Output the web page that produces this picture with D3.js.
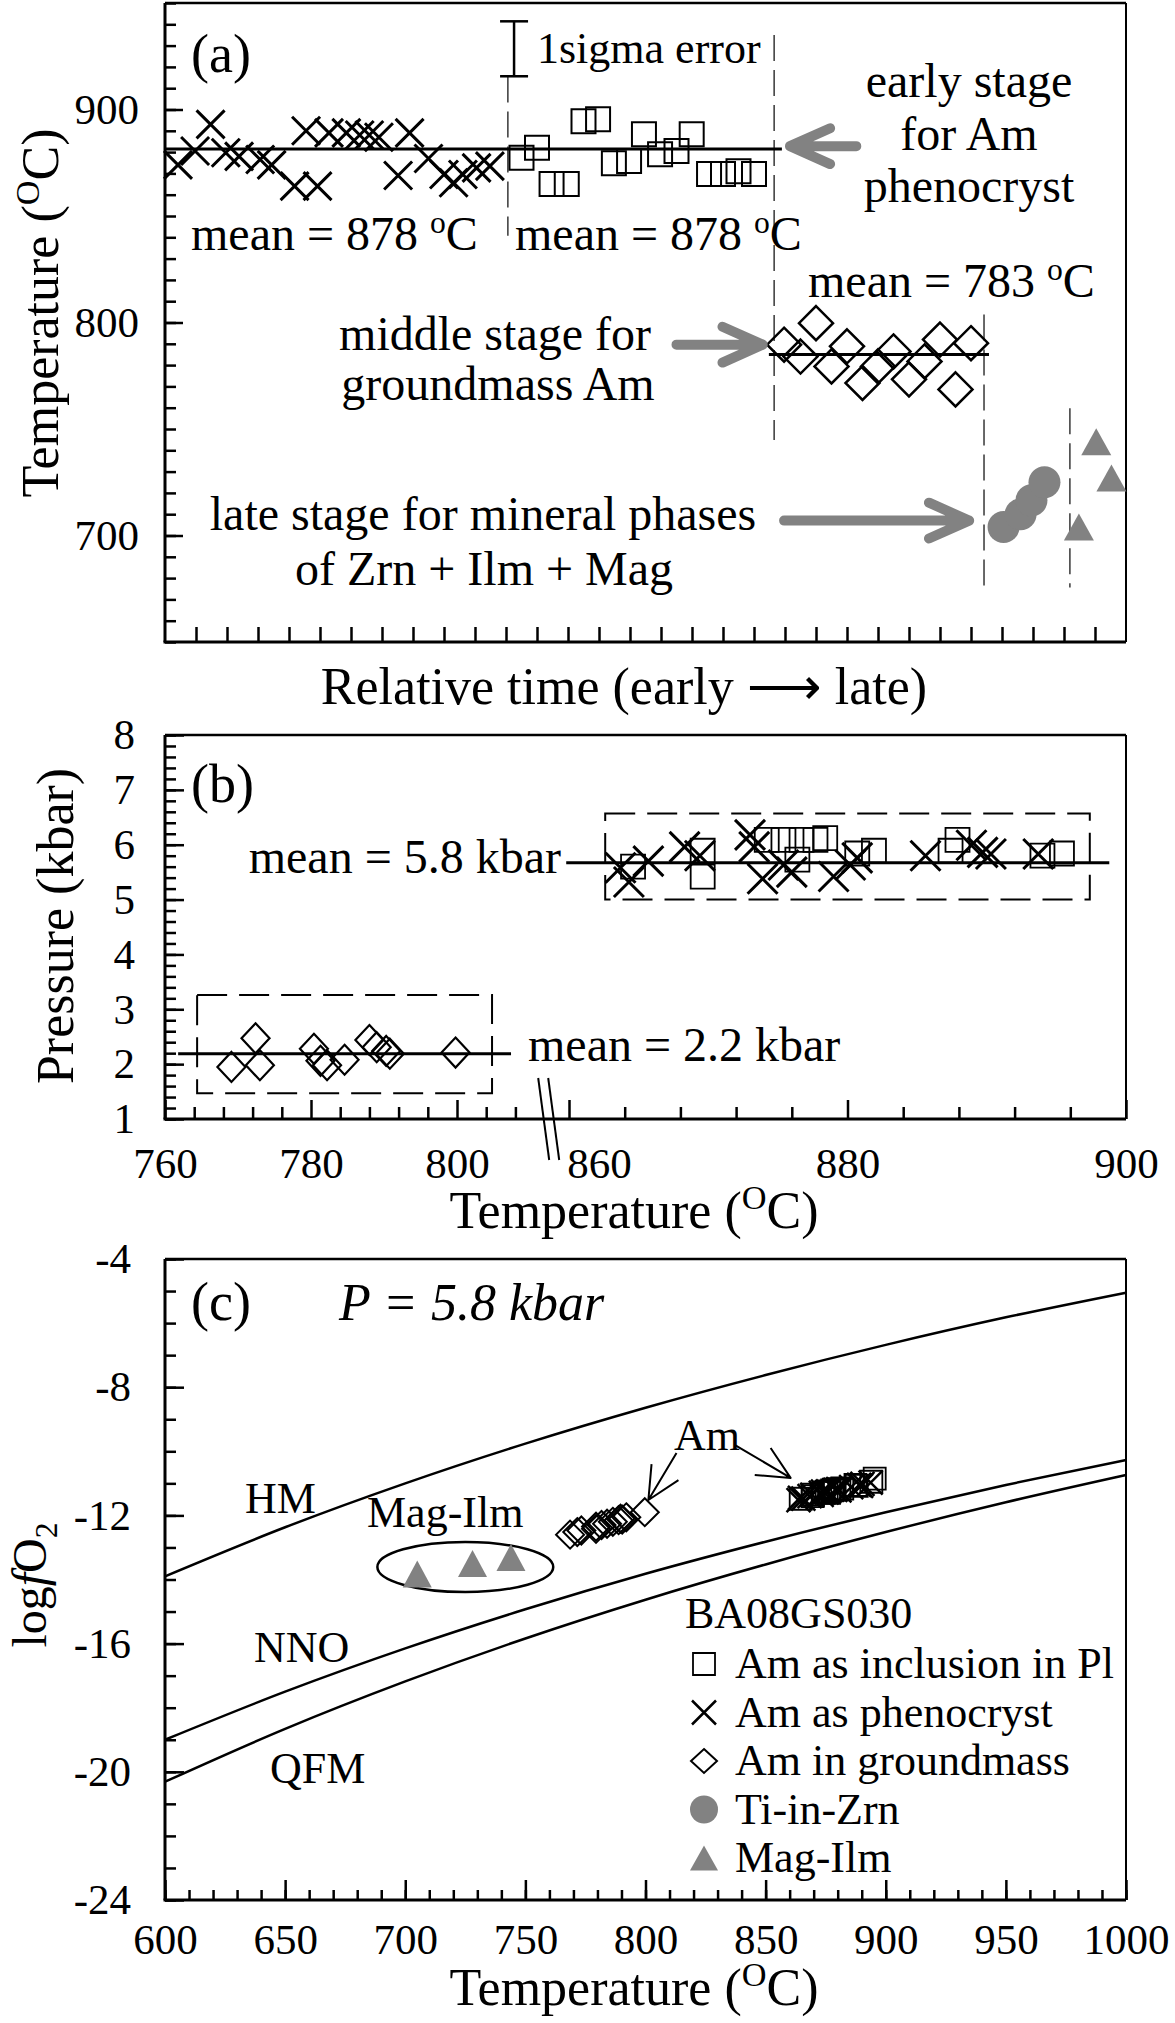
<!DOCTYPE html>
<head>
  <meta charset="UTF-8">
  <script src="https://d3js.org/d3.v7.min.js"></script>
  <style>
    body { margin: 0; background: #fff; }
  </style>
</head>
<body>
<div id="my_dataviz"></div>
<script>
// ---------- values ----------

// (a) relative time position, temperature (oC)
var aPhenocryst = [[0.42,874],[0.97,880.5],[1.47,893],[1.96,879.7],[2.39,878],[3.07,876.5],[3.44,874],
  [4.18,864],[4.55,890],[4.92,864],[5.29,889],[5.85,889],[6.28,888],[6.59,888],[6.9,887],[7.52,869],
  [7.89,889],[8.5,877],[9.0,869.5],[9.31,865.6],[9.61,869.5],[10.05,872.6],[10.48,873.4]];
var aInclusion = [[11.5,877.3],[12.0,882],[12.47,865],[12.96,865],[13.5,894.5],[13.97,895.4],[14.48,874.8],
  [14.97,875.8],[15.45,888.4],[15.97,879],[16.5,880.5],[16.99,888.4],[17.55,869.7],[18.0,869.7],[18.5,871],[19.0,869.7]];
var aGroundmass = [[19.97,789.6],[20.5,784],[21.0,799.7],[21.5,779.4],[22.0,788.8],[22.5,771.6],[23.0,779.4],
  [23.5,786.4],[24.0,773.3],[24.5,781.7],[25.0,792],[25.5,768.6],[26.0,790.3]];
var aZircon = [[27.05,704],[27.6,710],[27.95,716.5],[28.37,725]];
var aMagIlm = [[29.48,704],[30.04,744],[30.53,727]];
var aYTicks = [700, 800, 900];
var aMeanLines = [[0, 19.9, 881.5], [19.48, 26.58, 785]];            // from, to, temperature
var aDividers = [[11.06, 915.5, 840.7], [19.65, 935, 744.8], [26.42, 803.7, 674.2], [29.19, 759.7, 675.6]];
var aErrorBar = [11.26, 915.6, 941.4];
var aArrows = [[22.3, 882.8, 20.16, 882.8], [16.5, 789.6, 19.28, 789.6], [19.97, 707, 25.94, 707]];

// (b) temperature (oC), pressure (kbar)
var bGroundmass = [[769.1,1.95],[772.4,2.47],[773,1.98],[780.4,2.28],[781.3,2.06],[782.2,1.98],[784.6,2.08],
  [788,2.44],[789,2.31],[790.3,2.24],[790.8,2.19],[799.8,2.21]];
var bPhenocryst = [[863.7,5.58],[864.3,5.32],[865.7,5.70],[868.3,5.96],[869.4,5.8],[873,6.18],[873.3,5.96],
  [873.9,5.38],[875.4,5.63],[876,5.5],[879,5.42],[880.2,5.63],[880.7,5.76],[885.6,5.8],[888.9,5.99],
  [889.7,5.86],[890.3,5.83],[893.7,5.83]];
var bInclusion = [[864.6,5.6],[869.6,5.89],[869.6,5.42],[874.2,6.09],[875.4,6.09],[876.7,6.09],[877.7,6.09],
  [878.4,6.12],[876.4,5.73],[880.7,5.84],[881.9,5.89],[887.9,6.09],[887.4,5.89],[894,5.8],[895.4,5.84]];
var bYTicks = [1, 2, 3, 4, 5, 6, 7, 8];
var bXTicksLow = [760, 780, 800];
var bXTicksHigh = [860, 880, 900];
var bMeanLow = [761.8, 807.4, 2.19];
var bMeanHigh = [859.8, 898.8, 5.67];
var bBoxLow = [764.4, 804.8, 1.47, 3.26];
var bBoxHigh = [862.6, 897.4, 5.0, 6.57];

// (c) temperature (oC), log fO2
var cGroundmass = [[768.6,-12.6],[771.6,-12.52],[773.3,-12.47],[779.4,-12.35],[779.4,-12.42],[781.7,-12.3],
  [784,-12.26],[786.4,-12.2],[788.8,-12.15],[789.6,-12.1],[790.3,-12.13],[792,-12.06],[799.7,-11.9]];
var cPhenocryst = [[863.7,-11.52],[864.3,-11.45],[865.7,-11.48],[868.3,-11.4],[869.4,-11.36],[873,-11.3],
  [873.3,-11.36],[873.9,-11.26],[875.4,-11.28],[876,-11.25],[879,-11.2],[880.2,-11.18],[880.7,-11.22],
  [885.6,-11.12],[888.9,-11.05],[889.7,-11.08],[890.3,-11.02],[893.7,-10.98]];
var cInclusion = [[864.6,-11.48],[869.6,-11.4],[869.6,-11.35],[874.2,-11.3],[875.4,-11.27],[876.7,-11.25],
  [877.7,-11.22],[878.4,-11.2],[876.4,-11.3],[880.7,-11.18],[881.9,-11.16],[887.9,-11.08],[887.4,-11.05],
  [894,-10.95],[895.4,-10.85]];
var cMagIlm = [[705,-13.83],[728,-13.5],[744,-13.31]];
var cMagIlmRing = [725, -13.61, 36.6, 0.78];
var cAmArrows = [[812.9,-10.05,801.2,-11.52],[837.1,-9.8,860.4,-10.83]];
var bufferT = [600, 650, 700, 750, 800, 850, 900, 950, 1000];
var bufferHM = [-13.9, -12.37, -11.0, -9.76, -8.64, -7.62, -6.68, -5.82, -5.05];
var bufferNNO = [-19.0, -17.5, -16.15, -14.93, -13.82, -12.82, -11.9, -11.05, -10.27];
var bufferQFM = [-20.31, -18.66, -17.18, -15.84, -14.63, -13.53, -12.52, -11.59, -10.74];
var cXTicks = [600, 650, 700, 750, 800, 850, 900, 950, 1000];
var cYTicks = [-24, -20, -16, -12, -8, -4];
var legendLabels = ["Am as inclusion in Pl", "Am as phenocryst", "Am in groundmass", "Ti-in-Zrn", "Mag-Ilm"];

// ---------- setup ----------
var serif = "'Liberation Serif', 'Times New Roman', Times, serif";
var gray = "#828282";
var L = 165, R = 1126;

var svg = d3.select("#my_dataviz").append("svg")
  .attr("width", 1175).attr("height", 2023)
  .attr("font-family", serif);

// marker shapes
function sqPath(s) { var h = s / 2; return "M" + (-h) + "," + (-h) + "H" + h + "V" + h + "H" + (-h) + "Z"; }
function xPath(h) { return "M" + (-h) + "," + (-h) + "L" + h + "," + h + "M" + (-h) + "," + h + "L" + h + "," + (-h); }
function diaPath(w, h) { return "M0," + (-h) + "L" + w + ",0L0," + h + "L" + (-w) + ",0Z"; }
function triPath(w, h) { return "M0," + (-h / 2) + "L" + (w / 2) + "," + (h / 2) + "L" + (-w / 2) + "," + (h / 2) + "Z"; }
function dotPath(r) { return "M" + r + ",0A" + r + "," + r + " 0 1 1 " + (-r) + ",0A" + r + "," + r + " 0 1 1 " + r + ",0Z"; }

function marks(data, x, y, d, fill, stroke, sw) {
  svg.append("g").selectAll("path").data(data).enter().append("path")
    .attr("transform", function (p) { return "translate(" + x(p[0]) + "," + y(p[1]) + ")"; })
    .attr("d", d)
    .attr("fill", fill)
    .attr("stroke", stroke)
    .attr("stroke-width", sw);
}

// text with super/subscripts
function label(x, y, parts, size, anchor, opt) {
  opt = opt || {};
  var t = svg.append("text").attr("x", x).attr("y", y)
    .attr("font-family", serif)
    .attr("font-size", size).attr("text-anchor", anchor || "start").attr("fill", "#000");
  if (opt.italic) t.attr("font-style", "italic");
  if (opt.rotate) t.attr("transform", "rotate(-90," + x + "," + y + ")");
  var shift = 0;
  parts.forEach(function (p) {
    if (typeof p === "string") p = { t: p };
    var s = p.sup ? -0.36 * size : (p.sub ? 0.22 * size : 0);
    t.append("tspan").text(p.t)
      .attr("dy", s - shift)
      .attr("font-size", (p.sup || p.sub) ? size * 0.66 : null)
      .attr("font-style", p.it ? "italic" : null);
    shift = s;
  });
  return t;
}

function line(x1, y1, x2, y2, sw, dash, color) {
  svg.append("line").attr("x1", x1).attr("y1", y1).attr("x2", x2).attr("y2", y2)
    .attr("stroke", color || "#000").attr("stroke-width", sw)
    .attr("stroke-dasharray", dash || null);
}

function arrow(x1, y1, x2, y2, len, ang, sw, color) {
  var a = Math.atan2(y2 - y1, x2 - x1);
  var w1 = [x2 - len * Math.cos(a - ang), y2 - len * Math.sin(a - ang)];
  var w2 = [x2 - len * Math.cos(a + ang), y2 - len * Math.sin(a + ang)];
  svg.append("path")
    .attr("d", "M" + x1 + "," + y1 + "L" + x2 + "," + y2 + "M" + w1 + "L" + x2 + "," + y2 + "L" + w2)
    .attr("fill", "none").attr("stroke", color).attr("stroke-width", sw)
    .attr("stroke-linecap", color === "#000" ? "butt" : "round").attr("stroke-linejoin", "round");
}

function styleAxis(g, size) {
  g.attr("font-family", serif).attr("font-size", size);
  g.select(".domain").remove();
  g.selectAll("line").attr("stroke", "#000").attr("stroke-width", 2.5);
  g.selectAll("text").attr("fill", "#000");
}

function frame(top, bottom) {
  line(L, top, L, bottom, 3);
  line(L - 1.5, bottom, R, bottom, 3);
  line(L, top, R, top, 2.5);
  line(R, top, R, bottom, 2);
}

// ================= panel (a) =================
var xA = d3.scaleLinear().domain([0, 31]).range([L, R]);
var yA = d3.scaleLinear().domain([650, 950]).range([642, 3]);

svg.append("g").attr("transform", "translate(" + L + ",0)")
  .call(d3.axisLeft(yA).tickValues(d3.range(650, 951, 10)).tickSize(-11).tickFormat(""))
  .call(styleAxis, 43);
svg.append("g").attr("transform", "translate(" + L + ",0)")
  .call(d3.axisLeft(yA).tickValues(aYTicks).tickSize(-18).tickPadding(26).tickFormat(d3.format("d")))
  .call(styleAxis, 43);
svg.append("g").attr("transform", "translate(0,642)")
  .call(d3.axisBottom(xA).tickValues(d3.range(1, 31)).tickSize(-15).tickFormat(""))
  .call(styleAxis, 43);
frame(3, 642);

aDividers.forEach(function (d) {
  line(xA(d[0]), yA(d[1]), xA(d[0]), yA(d[2]), 1.6, "26,9", "#444");
});
aMeanLines.forEach(function (d) {
  line(xA(d[0]), yA(d[2]), xA(d[1]), yA(d[2]), 3);
});
// 1 sigma error bar
var ebx = xA(aErrorBar[0]);
line(ebx, yA(aErrorBar[1]), ebx, yA(aErrorBar[2]), 2.5);
line(ebx - 14, yA(aErrorBar[1]), ebx + 14, yA(aErrorBar[1]), 2.5);
line(ebx - 14, yA(aErrorBar[2]), ebx + 14, yA(aErrorBar[2]), 2.5);

marks(aPhenocryst, xA, yA, xPath(14), "none", "#000", 3);
marks(aInclusion, xA, yA, sqPath(24), "none", "#000", 2);
marks(aGroundmass, xA, yA, diaPath(17, 17), "none", "#000", 2.5);
marks(aZircon, xA, yA, dotPath(16), gray, "none", 0);
marks(aMagIlm, xA, yA, triPath(30, 27), gray, "none", 0);

aArrows.forEach(function (d) {
  arrow(xA(d[0]), yA(d[1]), xA(d[2]), yA(d[3]), 44, 0.42, 10, gray);
});

label(191, 72, ["(a)"], 54);
label(537, 63, ["1sigma error"], 44);
label(191, 250, ["mean = 878 ", { t: "o", sup: true }, "C"], 48);
label(515, 250, ["mean = 878 ", { t: "o", sup: true }, "C"], 48);
label(808, 297, ["mean = 783 ", { t: "o", sup: true }, "C"], 48);
label(969, 97, ["early stage"], 48, "middle");
label(969, 150, ["for Am"], 48, "middle");
label(969, 202, ["phenocryst"], 48, "middle");
label(495, 350, ["middle stage for"], 48, "middle");
label(498, 400, ["groundmass Am"], 48, "middle");
label(483, 530, ["late stage for mineral phases"], 48, "middle");
label(484, 585, ["of Zrn + Ilm + Mag"], 48, "middle");
label(58, 313, ["Temperature (", { t: "O", sup: true }, "C)"], 52, "middle", { rotate: true });
label(624, 704, ["Relative time (early \u27F6 late)"], 52, "middle");

// ================= panel (b) =================
var xbL = d3.scaleLinear().domain([760, 808]).range([L, 515.4]);
var xbR = d3.scaleLinear().domain([860, 900]).range([569, R]);
var yB = d3.scaleLinear().domain([1, 8]).range([1119, 735]);

svg.append("g").attr("transform", "translate(" + L + ",0)")
  .call(d3.axisLeft(yB).tickValues(d3.range(1, 8.01, 0.2)).tickSize(-11).tickFormat(""))
  .call(styleAxis, 43);
svg.append("g").attr("transform", "translate(" + L + ",0)")
  .call(d3.axisLeft(yB).tickValues(bYTicks).tickSize(-19).tickPadding(30).tickFormat(d3.format("d")))
  .call(styleAxis, 43);
svg.append("g").attr("transform", "translate(0,1119)")
  .call(d3.axisBottom(xbL).tickValues(d3.range(764, 809, 4).filter(function (v) { return v % 20; })).tickSize(-12).tickFormat(""))
  .call(styleAxis, 43);
svg.append("g").attr("transform", "translate(0,1119)")
  .call(d3.axisBottom(xbL).tickValues(bXTicksLow).tickSize(-19).tickPadding(28).tickFormat(d3.format("d")))
  .call(styleAxis, 43);
svg.append("g").attr("transform", "translate(0,1119)")
  .call(d3.axisBottom(xbR).tickValues(d3.range(864, 897, 4).filter(function (v) { return v % 20; })).tickSize(-12).tickFormat(""))
  .call(styleAxis, 43);
var bHighAxis = svg.append("g").attr("transform", "translate(0,1119)")
  .call(d3.axisBottom(xbR).tickValues(bXTicksHigh).tickSize(-19).tickPadding(28).tickFormat(d3.format("d")))
  .call(styleAxis, 43);
bHighAxis.selectAll(".tick text").filter(function (d) { return d === 860; }).attr("dx", 30);
frame(735, 1119);

// axis break marks
var brk = (xbL(808) + xbR(860)) / 2;
line(brk - 4, 1078, brk + 7, 1160, 2);
line(brk + 6, 1078, brk + 17, 1160, 2);

svg.append("rect")
  .attr("x", xbL(bBoxLow[0])).attr("y", yB(bBoxLow[3]))
  .attr("width", xbL(bBoxLow[1]) - xbL(bBoxLow[0])).attr("height", yB(bBoxLow[2]) - yB(bBoxLow[3]))
  .attr("fill", "none").attr("stroke", "#000").attr("stroke-width", 2).attr("stroke-dasharray", "30,12");
svg.append("rect")
  .attr("x", xbR(bBoxHigh[0])).attr("y", yB(bBoxHigh[3]))
  .attr("width", xbR(bBoxHigh[1]) - xbR(bBoxHigh[0])).attr("height", yB(bBoxHigh[2]) - yB(bBoxHigh[3]))
  .attr("fill", "none").attr("stroke", "#000").attr("stroke-width", 2).attr("stroke-dasharray", "30,12");

line(xbL(bMeanLow[0]), yB(bMeanLow[2]), xbL(bMeanLow[1]), yB(bMeanLow[2]), 3);
line(xbR(bMeanHigh[0]), yB(bMeanHigh[2]), xbR(bMeanHigh[1]), yB(bMeanHigh[2]), 3);

marks(bGroundmass, xbL, yB, diaPath(14, 15), "none", "#000", 2.2);
marks(bPhenocryst, xbR, yB, xPath(15), "none", "#000", 3);
marks(bInclusion, xbR, yB, sqPath(24), "none", "#000", 1.8);

label(191, 802, ["(b)"], 54);
label(561, 873, ["mean = 5.8 kbar"], 48, "end");
label(528, 1061, ["mean = 2.2 kbar"], 48);
label(73, 926, ["Pressure (kbar)"], 52, "middle", { rotate: true });
label(634, 1228, ["Temperature (", { t: "O", sup: true }, "C)"], 52, "middle");

// ================= panel (c) =================
var xC = d3.scaleLinear().domain([600, 1000]).range([L, R]);
var yC = d3.scaleLinear().domain([-24, -4]).range([1900, 1259]);

svg.append("g").attr("transform", "translate(" + L + ",0)")
  .call(d3.axisLeft(yC).tickValues(d3.range(-24, -3.5, 1)).tickSize(-11).tickFormat(""))
  .call(styleAxis, 43);
svg.append("g").attr("transform", "translate(" + L + ",0)")
  .call(d3.axisLeft(yC).tickValues(cYTicks).tickSize(-19).tickPadding(34).tickFormat(function (d) { return String(d); }))
  .call(styleAxis, 43);
svg.append("g").attr("transform", "translate(0,1900)")
  .call(d3.axisBottom(xC).tickValues(d3.range(600, 1001, 10)).tickSize(-10).tickFormat(""))
  .call(styleAxis, 43);
svg.append("g").attr("transform", "translate(0,1900)")
  .call(d3.axisBottom(xC).tickValues(cXTicks).tickSize(-20).tickPadding(23).tickFormat(d3.format("d")))
  .call(styleAxis, 43);
frame(1259, 1900);

var buffer = d3.line().curve(d3.curveMonotoneX)
  .x(function (d) { return xC(d[0]); }).y(function (d) { return yC(d[1]); });
[bufferHM, bufferNNO, bufferQFM].forEach(function (vals) {
  svg.append("path").attr("d", buffer(bufferT.map(function (t, i) { return [t, vals[i]]; })))
    .attr("fill", "none").attr("stroke", "#000").attr("stroke-width", 2.5);
});

svg.append("ellipse")
  .attr("cx", xC(cMagIlmRing[0])).attr("cy", yC(cMagIlmRing[1]))
  .attr("rx", xC(cMagIlmRing[0] + cMagIlmRing[2]) - xC(cMagIlmRing[0]))
  .attr("ry", yC(cMagIlmRing[1] - cMagIlmRing[3]) - yC(cMagIlmRing[1]))
  .attr("fill", "none").attr("stroke", "#000").attr("stroke-width", 2.5);

marks(cMagIlm, xC, yC, triPath(29, 27), gray, "none", 0);
marks(cGroundmass, xC, yC, diaPath(14, 14), "none", "#000", 2);
marks(cPhenocryst, xC, yC, xPath(12), "none", "#000", 2.5);
marks(cInclusion, xC, yC, sqPath(22), "none", "#000", 1.8);

cAmArrows.forEach(function (d) {
  arrow(xC(d[0]), yC(d[1]), xC(d[2]), yC(d[3]), 36, 0.45, 2, "#000");
});

label(191, 1320, ["(c)"], 54);
label(339, 1320, ["P = 5.8 kbar"], 52, "start", { italic: true });
label(245, 1513, ["HM"], 44);
label(254, 1662, ["NNO"], 44);
label(270, 1783, ["QFM"], 44);
label(367, 1527, ["Mag-Ilm"], 44);
label(674, 1450, ["Am"], 44);

// legend
label(685, 1628, ["BA08GS030"], 44);
var legendShapes = [
  { d: sqPath(22), fill: "none", stroke: "#000", sw: 1.8 },
  { d: xPath(12), fill: "none", stroke: "#000", sw: 2.5 },
  { d: diaPath(13, 12), fill: "none", stroke: "#000", sw: 2 },
  { d: dotPath(14), fill: gray, stroke: "none", sw: 0 },
  { d: triPath(28, 25), fill: gray, stroke: "none", sw: 0 }
];
legendLabels.forEach(function (txt, i) {
  var base = 1678 + i * 48.5;
  var s = legendShapes[i];
  svg.append("path").attr("transform", "translate(704," + (base - 14) + ")")
    .attr("d", s.d).attr("fill", s.fill).attr("stroke", s.stroke).attr("stroke-width", s.sw);
  label(735, base, [txt], 44);
});

label(46, 1585, ["log", { t: "f", it: true }, "O", { t: "2", sub: true }], 48, "middle", { rotate: true });
label(634, 2005, ["Temperature (", { t: "O", sup: true }, "C)"], 52, "middle");
</script>
</body>
